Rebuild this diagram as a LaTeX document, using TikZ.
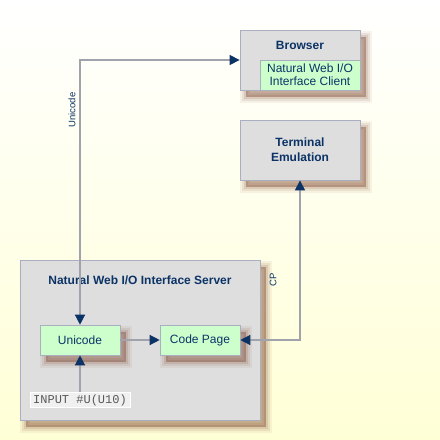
\documentclass[tikz,border=0pt]{standalone}
\usepackage{fontspec}
\setmainfont{Liberation Sans}
\setmonofont{Liberation Mono}
\usetikzlibrary{arrows.meta,shadows}
\definecolor{navy}{HTML}{0B3366}
\definecolor{boxgray}{HTML}{DEDEDE}
\definecolor{boxline}{HTML}{A9AFC0}
\definecolor{paleGreen}{HTML}{CCFFCC}
\definecolor{lineGray}{HTML}{A0A2AC}
\definecolor{shadowBrown}{HTML}{804830}
\definecolor{paleYellow}{HTML}{FFFFD6}
\tikzset{
  softshadow/.style={
    general shadow={fill=shadowBrown, draw=shadowBrown, line width=12pt, rounded corners=7pt,
      opacity=0.07, shadow xshift=6pt, shadow yshift=-7pt},
    general shadow={fill=shadowBrown, draw=shadowBrown, line width=8pt, rounded corners=5pt,
      opacity=0.1, shadow xshift=6pt, shadow yshift=-7pt},
    general shadow={fill=shadowBrown, draw=shadowBrown, line width=4pt, rounded corners=3pt,
      opacity=0.14, shadow xshift=6pt, shadow yshift=-7pt},
    general shadow={fill=shadowBrown, opacity=0.18, shadow xshift=6pt, shadow yshift=-7pt}},
  box/.style={draw=boxline, fill=boxgray, line width=0.8pt, inner sep=0pt, softshadow},
  greenbox/.style={draw=boxline, fill=paleGreen, line width=0.6pt, inner sep=0pt,
    minimum width=80pt, minimum height=30pt, text=navy, font=\fontsize{12}{14}\selectfont},
  title/.style={text=navy, font=\fontsize{12}{14}\selectfont\bfseries, align=center},
  conn/.style={draw=lineGray, line width=1.3pt,
    arrows={-Triangle[color=navy,length=10pt,width=10pt]}},
  bothconn/.style={draw=lineGray, line width=1.3pt,
    arrows={Triangle[color=navy,length=10pt,width=10pt]-Triangle[color=navy,length=10pt,width=10pt]}},
  lbl/.style={text=navy, rotate=90, font=\fontsize{9.5}{11}\selectfont}
}
\begin{document}
\begin{tikzpicture}[x=1pt,y=-1pt]
  \useasboundingbox (0,0) rectangle (440,440);
  \shade[top color=white, bottom color=paleYellow] (0,0) rectangle (440,440);
  % boxes
  \node[box, minimum width=120pt, minimum height=60pt] (browser) at (300,60) {};
  \node[box, minimum width=120pt, minimum height=60pt] (terminal) at (300,150) {};
  \node[box, minimum width=240pt, minimum height=160pt] (server) at (140,340) {};
  \node[title] (browsertitle) at (300,45) {Browser};
  \node[greenbox, minimum width=100pt, align=center, font=\fontsize{12}{13}\selectfont] (client) at (310,75) {Natural Web I/O\\Interface Client};
  \node[title, font=\fontsize{12}{15}\selectfont\bfseries] (terminaltitle) at (300,150) {Terminal\\Emulation};
  \node[title] (servertitle) at (140,280) {Natural Web I/O Interface Server};
  \node[greenbox, softshadow] (unicode) at (80,340) {Unicode};
  \node[greenbox, softshadow] (codepage) at (200,340) {Code Page};
  \node[draw=white, fill=black!6, line width=0.8pt, inner sep=0pt, minimum width=100pt, minimum height=15pt,
    text=black!65, font=\ttfamily\fontsize{12}{12}\selectfont] (input) at (80,400) {INPUT \#U(U10)};
  % connectors
  \draw[bothconn] (unicode.north) |- (browser.west);
  \draw[bothconn] (codepage.east) -| (terminal.south);
  \draw[conn] (unicode) -- (codepage);
  \draw[conn] (input) -- (unicode);
  \node[lbl] (unicodelabel) at (72,110) {Unicode};
  \node[lbl] (cplabel) at (273,280) {CP};
\end{tikzpicture}
\end{document}
